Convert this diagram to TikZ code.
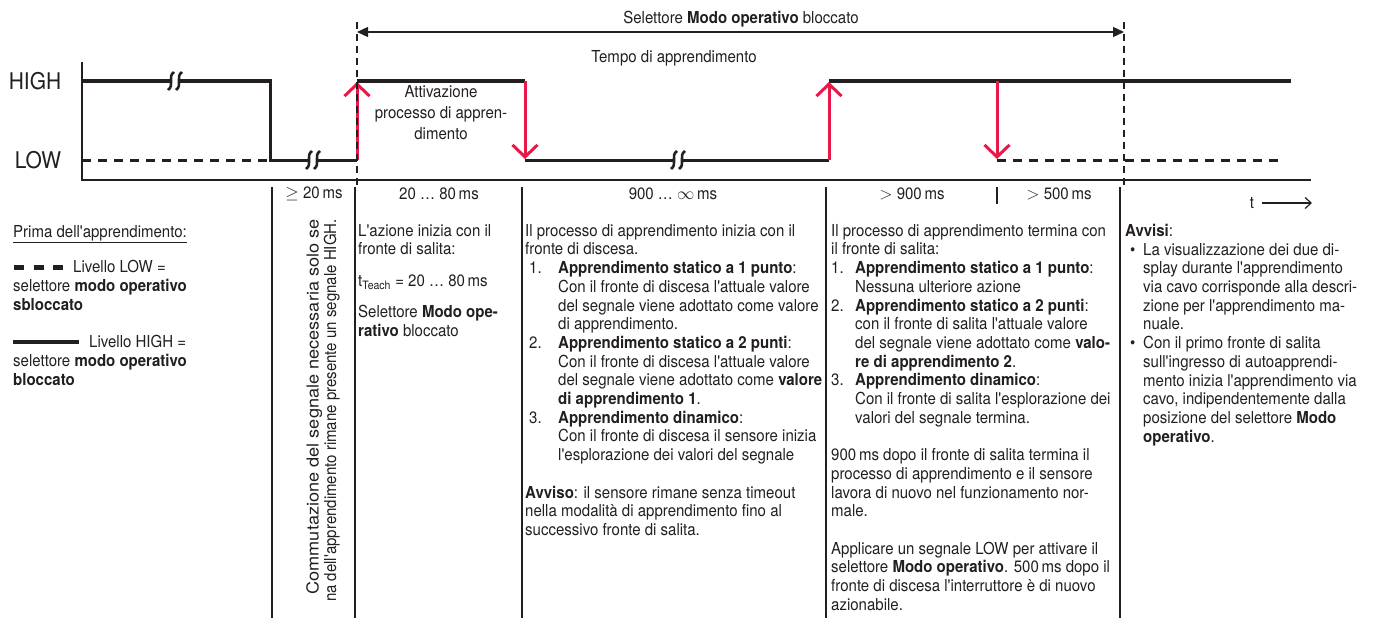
\documentclass[tikz,border=0pt]{standalone}
\usepackage{fontspec}
\setmainfont{TeX Gyre Heros}[FakeStretch=0.91, Ligatures=TeXOff]
\newfontfamily\widesans{TeX Gyre Heros}[FakeStretch=1.1, Ligatures=TeXOff]
\usetikzlibrary{arrows.meta}

\definecolor{ink}{RGB}{35,31,32}
\definecolor{edgered}{RGB}{232,24,72}

\tikzset{
  level/.style={line width=3pt, ink},
  lowdash/.style={line width=3pt, ink, dash pattern=on 9pt off 7pt},
  edge/.style={line width=3pt, edgered, -{Straight Barb[length=12pt,width=25pt,line width=3pt]}},
  marker/.style={line width=1.4pt, ink, dash pattern=on 7pt off 5pt},
  axis/.style={line width=1.4pt, ink},
  divider/.style={line width=1.1pt, ink},
  body/.style={font=\fontsize{16.5}{18.7}\selectfont, align=left, anchor=north west, inner sep=0pt, text=ink},
  timing/.style={font=\fontsize{16.5}{18.7}\selectfont, inner sep=0pt, text=ink},
  levelname/.style={font=\fontsize{23}{24}\selectfont, inner sep=0pt, text=ink},
  pics/wavegap/.style={code={
    \fill[white] (-4,-10) rectangle (4,10);
    \draw[line width=2.6pt, ink] (-1,-9) .. controls (-8,-4) and (0,4) .. (-7,9);
    \draw[line width=2.6pt, ink] (7,-9) .. controls (0,-4) and (8,4) .. (1,9);
  }}
}

\begin{document}
\begin{tikzpicture}[x=1pt, y=-1pt]
    \useasboundingbox (0,0) rectangle (1376,618);

    % level names and axes
    \node[levelname] (high) at (35,81) {HIGH};
    \node[levelname] (low) at (38,160) {LOW};
    \draw[axis] (82,62) -- (82,180) -- (1311,180);

    % signal
    \draw[lowdash] (82,160) -- (270,160);
    \draw[level] (82,81) -- (270,81) -- (270,160) -- (357,160);
    \draw[level] (357,81) -- (525,81);
    \draw[level] (525,160) -- (829,160);
    \draw[level] (829,81) -- (1291,81);
    \draw[lowdash] (997,160) -- (1282,160);
    \pic at (175,81) {wavegap};
    \pic at (313,160) {wavegap};
    \pic at (678,160) {wavegap};

    % edges
    \draw[edge] (357,160) -- (357,82);
    \draw[edge] (525,81) -- (525,159);
    \draw[edge] (829,160) -- (829,82);
    \draw[edge] (997,81) -- (997,159);

    % locked selector span
    \draw[marker] (357,22) -- (357,190);
    \draw[marker] (1124,22) -- (1124,190);
    \coordinate (lockstart) at (357,32);
    \coordinate (lockend) at (1124,32);
    \draw[line width=1.3pt, ink, {Triangle[length=11pt,width=10pt]}-{Triangle[length=11pt,width=10pt]}] (lockstart) -- (lockend);
    \node[timing] (locked) at (741,19) {Selettore \textbf{Modo operativo} bloccato};
    \node[timing] (teachtime) at (674,58) {Tempo di apprendimento};
    \node[timing, align=center, font=\fontsize{16.5}{21}\selectfont] (activate) at (441,113) {Attivazione\\processo di appren-\\dimento};

    % durations
    \node[timing] (d1) at (314,194) {$\geq$ 20\,ms};
    \node[timing] (d2) at (439,194) {20 … 80\,ms};
    \node[timing] (d3) at (673,194) {900 … $\infty$\,ms};
    \node[timing] (d4) at (912,194) {$>$ 900\,ms};
    \node[timing] (d5) at (1059,194) {$>$ 500\,ms};
    \node[timing] (tlabel) at (1252,203) {t};
    \coordinate (tend) at (1312,203);
    \draw[line width=1.2pt, ink, -{Straight Barb[length=6pt,width=11pt]}] ([xshift=8pt]tlabel.east) -- (tend);

    % column dividers
    \draw[divider] (272,187) -- (272,618);
    \draw[divider] (355,187) -- (355,618);
    \draw[divider] (522,187) -- (522,618);
    \draw[divider] (826,187) -- (826,618);
    \draw[divider] (997,187) -- (997,204);
    \draw[divider] (1120,187) -- (1120,618);

    % legend
    \node[body] (before) at (13,225) {\underline{Prima dell'apprendimento:}};
    \draw[line width=5pt, ink, dash pattern=on 10pt off 9.5pt] (14,267) -- (63,267);
    \node[body, anchor=base west] (lowlvl) at (73,272) {Livello LOW =};
    \node[body] (lowtxt) at (13,279) {selettore \textbf{modo operativo}\\\textbf{sbloccato}};
    \draw[line width=4.5pt, ink] (13,342) -- (79,342);
    \node[body, anchor=base west] (highlvl) at (89,347) {Livello HIGH =};
    \node[body] (hightxt) at (13,354) {selettore \textbf{modo operativo}\\\textbf{bloccato}};

    % columns
    \node[body, rotate=90, anchor=north east, align=right, font=\fontsize{16.5}{17.5}\selectfont] (switchnote) at (306,219)
        {{\widesans Commutazione del segnale necessaria solo se}\\na dell'apprendimento rimane presente un segnale HIGH.};

    \node[body] (start) at (358,224)
        {L'azione inizia con il\\fronte di salita:\\[13pt]
         t\textsubscript{Teach} = 20 … 80\,ms\\[12pt]
         Selettore \textbf{Modo ope-}\\\textbf{rativo} bloccato};

    \node[body] (fall) at (525,224)
        {Il processo di apprendimento inizia con il\\
         fronte di discesa.\\
         \hspace*{4pt}\makebox[29pt][l]{1.}\textbf{Apprendimento statico a 1 punto}:\\
         \hspace*{33pt}Con il fronte di discesa l'attuale valore\\
         \hspace*{33pt}del segnale viene adottato come valore\\
         \hspace*{33pt}di apprendimento.\\
         \hspace*{4pt}\makebox[29pt][l]{2.}\textbf{Apprendimento statico a 2 punti}:\\
         \hspace*{33pt}Con il fronte di discesa l'attuale valore\\
         \hspace*{33pt}del segnale viene adottato come \textbf{valore}\\
         \hspace*{33pt}\textbf{di apprendimento 1}.\\
         \hspace*{4pt}\makebox[29pt][l]{3.}\textbf{Apprendimento dinamico}:\\
         \hspace*{33pt}Con il fronte di discesa il sensore inizia\\
         \hspace*{33pt}l'esplorazione dei valori del segnale\\[18.7pt]
         \textbf{Avviso}: il sensore rimane senza timeout\\
         nella modalità di apprendimento fino al\\
         successivo fronte di salita.};

    \node[body] (rise) at (831,224)
        {Il processo di apprendimento termina con\\
         il fronte di salita:\\
         \makebox[24pt][l]{1.}\textbf{Apprendimento statico a 1 punto}:\\
         \hspace*{24pt}Nessuna ulteriore azione\\
         \makebox[24pt][l]{2.}\textbf{Apprendimento statico a 2 punti}:\\
         \hspace*{24pt}con il fronte di salita l'attuale valore\\
         \hspace*{24pt}del segnale viene adottato come \textbf{valo-}\\
         \hspace*{24pt}\textbf{re di apprendimento 2}.\\
         \makebox[24pt][l]{3.}\textbf{Apprendimento dinamico}:\\
         \hspace*{24pt}Con il fronte di salita l'esplorazione dei\\
         \hspace*{24pt}valori del segnale termina.\\[18.7pt]
         900\,ms dopo il fronte di salita termina il\\
         processo di apprendimento e il sensore\\
         lavora di nuovo nel funzionamento nor-\\
         male.\\[18.7pt]
         Applicare un segnale LOW per attivare il\\
         selettore \textbf{Modo operativo}. 500\,ms dopo il\\
         fronte di discesa l'interruttore è di nuovo\\
         azionabile.};

    \node[body] (notes) at (1125,224)
        {\textbf{Avvisi}:\\
         \hspace*{5pt}\makebox[13pt][l]{\textbullet}La visualizzazione dei due di-\\
         \hspace*{18pt}splay durante l'apprendimento\\
         \hspace*{18pt}via cavo corrisponde alla descri-\\
         \hspace*{18pt}zione per l'apprendimento ma-\\
         \hspace*{18pt}nuale.\\
         \hspace*{5pt}\makebox[13pt][l]{\textbullet}Con il primo fronte di salita\\
         \hspace*{18pt}sull'ingresso di autoapprendi-\\
         \hspace*{18pt}mento inizia l'apprendimento via\\
         \hspace*{18pt}cavo, indipendentemente dalla\\
         \hspace*{18pt}posizione del selettore \textbf{Modo}\\
         \hspace*{18pt}\textbf{operativo}.};
\end{tikzpicture}
\end{document}
